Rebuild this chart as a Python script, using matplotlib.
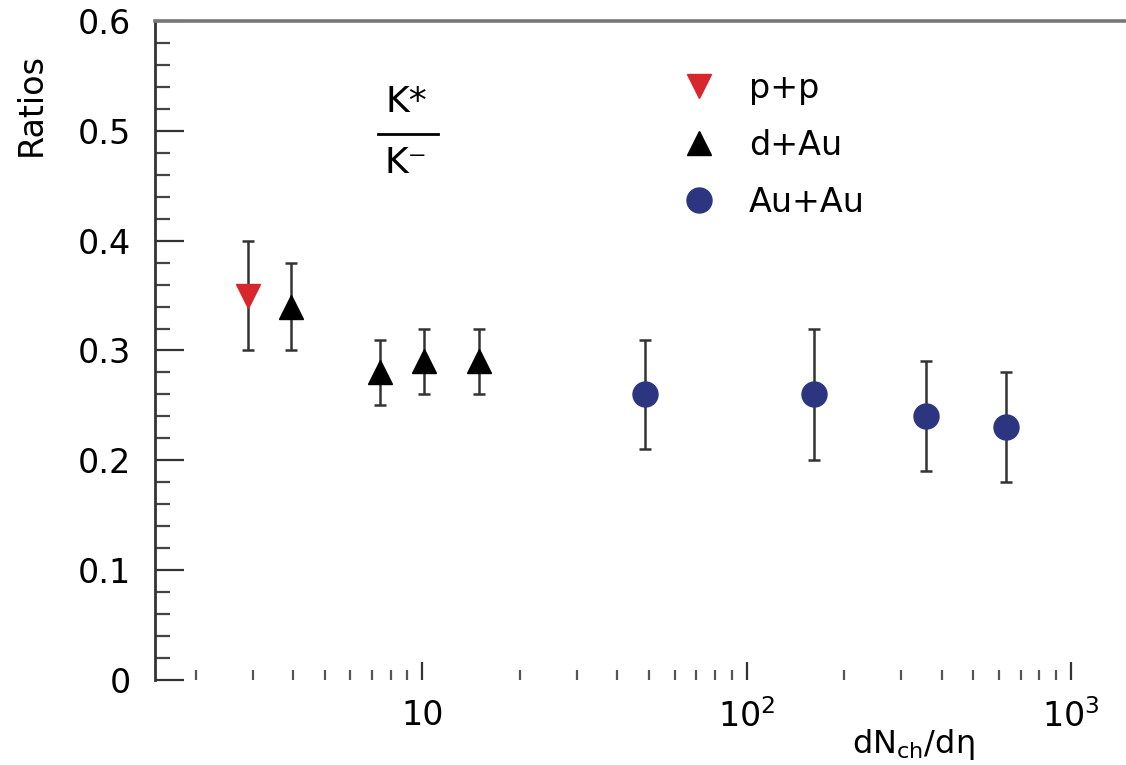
import matplotlib
matplotlib.use("Agg")
import matplotlib.pyplot as plt
from matplotlib.lines import Line2D
from matplotlib.ticker import LogLocator, MultipleLocator, FixedLocator, FixedFormatter

plt.rcParams['font.family'] = ['DejaVu Sans']
plt.rcParams['mathtext.default'] = 'regular'

# data
pp_x = [2.9]
pp_y = [0.35]
pp_err = [0.05]

dau_x = [3.95, 7.4, 10.1, 15.0]
dau_y = [0.34, 0.28, 0.29, 0.29]
dau_err = [0.04, 0.03, 0.03, 0.03]

auau_x = [48.6, 161.0, 358.0, 631.0]
auau_y = [0.26, 0.26, 0.24, 0.23]
auau_err = [0.05, 0.06, 0.05, 0.05]

xtick_vals = [10, 100, 1000]
xtick_labels = ['10', '$10^{2}$', '$10^{3}$']
ytick_vals = [0, 0.1, 0.2, 0.3, 0.4, 0.5, 0.6]
ytick_labels = ['0', '0.1', '0.2', '0.3', '0.4', '0.5', '0.6']
series_labels = ['p+p', 'd+Au', 'Au+Au']

W, H = 1126, 765
fig = plt.figure(figsize=(W / 100, H / 100), dpi=100)
ax = fig.add_axes([155 / W, 1 - 680 / H, (1128 - 155) / W, (680 - 21) / H])

red = '#d8262d'
blue = '#2c3580'
ecol = '#333333'

common = dict(linestyle='none', ecolor=ecol, elinewidth=1.8, capsize=4, capthick=1.8)
ax.errorbar(pp_x, pp_y, yerr=pp_err, marker='v', ms=17, color=red, mec=red, **common)
ax.errorbar(dau_x, dau_y, yerr=dau_err, marker='^', ms=17, color='black', mec='black', **common)
ax.errorbar(auau_x, auau_y, yerr=auau_err, marker='o', ms=18, color=blue, mec=blue, **common)

ax.set_xscale('log')
ax.set_xlim(1.5, 1500)
ax.set_ylim(0, 0.6)

# spines
ax.spines['right'].set_visible(False)
ax.spines['bottom'].set_visible(False)
ax.spines['left'].set_linewidth(2.0)
ax.spines['left'].set_color('#333333')
ax.spines['top'].set_linewidth(2.6)
ax.spines['top'].set_color('#777777')

# ticks
ax.set_yticks(ytick_vals)
ax.set_yticklabels(ytick_labels)
ax.yaxis.set_minor_locator(MultipleLocator(0.02))
ax.tick_params(axis='y', which='major', direction='in', length=21, width=1.6,
               colors='#333333', labelcolor='black', labelsize=24, pad=17,
               left=True, right=False)
ax.tick_params(axis='y', which='minor', direction='in', length=11, width=1.6,
               colors='#444444', left=True, right=False)

ax.xaxis.set_major_locator(FixedLocator(xtick_vals))
ax.xaxis.set_major_formatter(FixedFormatter(xtick_labels))
ax.xaxis.set_minor_locator(LogLocator(base=10, subs=range(2, 10), numticks=20))
ax.xaxis.set_minor_formatter(plt.NullFormatter())
ax.tick_params(axis='x', which='major', direction='in', length=13, width=1.6,
               colors='#333333', labelcolor='black', labelsize=24, pad=14,
               bottom=True, top=False)
ax.tick_params(axis='x', which='minor', direction='in', length=7, width=1.6,
               colors='#555555', bottom=True, top=False)

# axis labels
fig.text(31 / W, 1 - 104 / H, 'Ratios', rotation=90, fontsize=24,
         ha='center', va='center')
fig.text(852 / W, 1 - 744 / H, r'dN$_{ch}$/d$\eta$', fontsize=23,
         ha='left', va='center')

# K*/K- annotation
fig.text(406 / W, 1 - 102 / H, 'K*', fontsize=26, ha='center', va='center')
fig.text(406 / W, 1 - 163 / H, 'K\u207b', fontsize=26, ha='center', va='center')
fig.add_artist(Line2D([378 / W, 438 / W], [1 - 134 / H, 1 - 134 / H],
                      transform=fig.transFigure, color='black', lw=2))

# legend
handles = [
    Line2D([], [], linestyle='none', marker='v', ms=17, color=red),
    Line2D([], [], linestyle='none', marker='^', ms=17, color='black'),
    Line2D([], [], linestyle='none', marker='o', ms=18, color=blue),
]
fig.legend(handles, series_labels, loc='upper left',
           bbox_to_anchor=(682 / W, 1 - 72 / H), frameon=False, fontsize=24,
           handlelength=1.0, handletextpad=1.0, labelspacing=0.72,
           borderpad=0, borderaxespad=0)

fig.savefig('out.png', dpi=100)
